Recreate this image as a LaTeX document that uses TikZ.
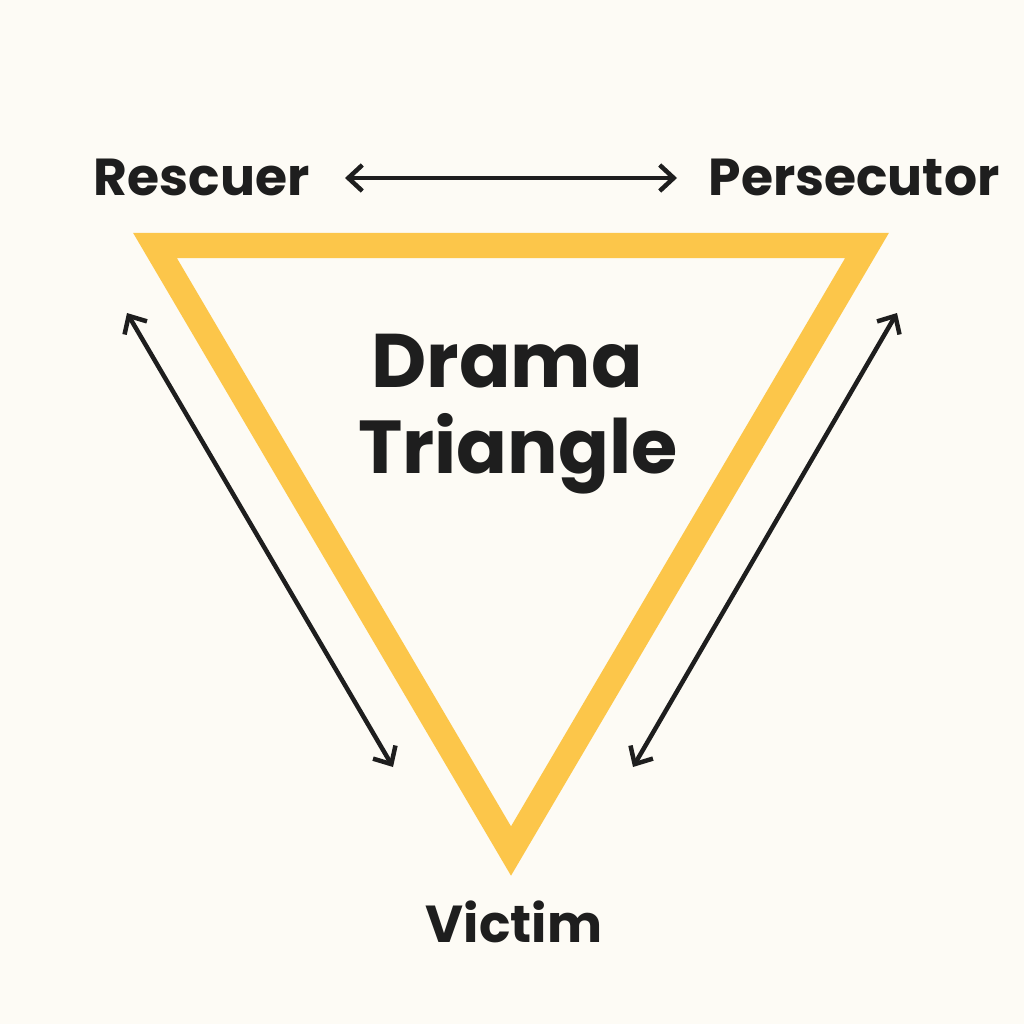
\documentclass[tikz,border=0pt]{standalone}
\usepackage{fontspec}
\setmainfont{Poppins}
\usetikzlibrary{arrows.meta}
\definecolor{bgc}{HTML}{FDFBF5}
\definecolor{tri}{HTML}{FCC64A}
\definecolor{ink}{HTML}{1E1E1E}
\tikzset{
  lbl/.style={text=ink, inner sep=0pt, anchor=base, font=\bfseries\fontsize{52}{60}\selectfont},
  dbl/.style={draw=ink, line width=4.5pt, {Straight Barb[length=14pt,width=26pt]}-{Straight Barb[length=14pt,width=26pt]}},
}
\begin{document}
\begin{tikzpicture}[x=1pt,y=-1pt]
\fill[bgc] (0,0) rectangle (1024,1024);
\useasboundingbox (0,0) rectangle (1024,1024);
% triangle
\coordinate (tl) at (155,245.5);
\coordinate (tr) at (867,245.5);
\coordinate (bt) at (511,851);
\draw[tri, line width=25pt, line join=miter] (tl) -- (tr) -- (bt) -- cycle;
% labels
\node[lbl] (resc) at (201.5,196) {Rescuer};
\node[lbl] (pers) at (854,196) {Persecutor};
\node[lbl, font=\bfseries\fontsize{52}{60}\selectfont] (vict) at (514,942) {Victim};
\node[lbl, font=\bfseries\fontsize{76}{86}\selectfont] (dram) at (507,387) {Drama};
\node[lbl, font=\bfseries\fontsize{75}{86}\selectfont] (tria) at (518,473) {Triangle};
% arrows
\coordinate (a1) at (345,178);
\coordinate (a2) at (677,178);
\coordinate (b1) at (127,313);
\coordinate (b2) at (393,767);
\coordinate (c1) at (897,313);
\coordinate (c2) at (633,767);
\draw[dbl] (a1) -- (a2);
\draw[dbl] (b1) -- (b2);
\draw[dbl] (c1) -- (c2);
\end{tikzpicture}
\end{document}
